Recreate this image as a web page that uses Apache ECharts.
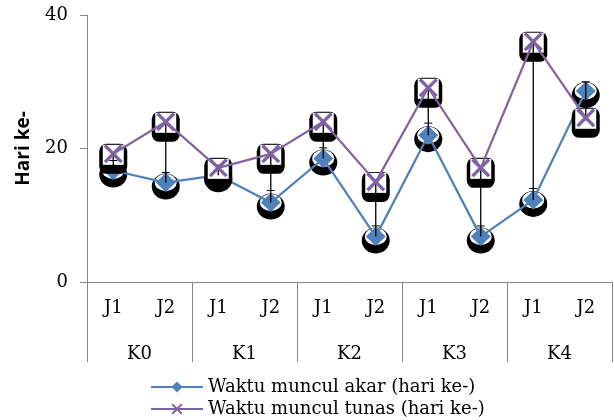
<!DOCTYPE html>
<html><head><meta charset="utf-8">
<script src="https://cdn.jsdelivr.net/npm/echarts@6/dist/echarts.min.js"></script>
<style>html,body{margin:0;padding:0;background:#fff}#c{width:614px;height:420px}</style>
</head><body><div id="c"></div>
<script>
const subCategories = ['J1','J2','J1','J2','J1','J2','J1','J2','J1','J2'];
const groups = ['K0','K1','K2','K3','K4'];
const akar = [16.7, 14.9, 16.0, 11.9, 18.5, 6.8, 22.0, 6.8, 12.3, 28.6];
const tunas = [19.2, 24.0, 17.1, 19.2, 24.0, 15.0, 29.1, 17.1, 36.0, 24.6];
const akarErr = [1.5, 1.5, 1.5, 1.8, 1.6, 1.6, 1.8, 1.6, 1.7, 1.4];
const yTicks = [0, 20, 40];
const seriesNames = ['Waktu muncul akar (hari ke-)', 'Waktu muncul tunas (hari ke-)'];

const BLUE = '#4F81BD', PURPLE = '#8064A2', GRAY = '#868686';
const SERIF = 'DejaVu Serif';
const XPATH = 'path://M0,2.5 L2.5,0 L10,7.5 L17.5,0 L20,2.5 L12.5,10 L20,17.5 L17.5,20 L10,12.5 L2.5,20 L0,17.5 L7.5,10 Z';

const chart = echarts.init(document.getElementById('c'), null, {renderer: 'canvas'});
const errData = akar.map((a, i) => [i, a, tunas[i], akarErr[i]]);
const legendText = {fontFamily: SERIF, fontSize: 18, color: '#000'};

chart.setOption({
  animation: false,
  grid: {left: 87, right: 2, top: 15, bottom: 138},
  legend: [{
    left: 145, top: 373, itemWidth: 52, itemHeight: 14,
    data: [seriesNames[0]], textStyle: legendText
  }, {
    left: 145, top: 395, itemWidth: 52, itemHeight: 14,
    data: [seriesNames[1]], textStyle: legendText
  }],
  xAxis: [{
    type: 'category', data: subCategories, boundaryGap: true,
    axisLine: {lineStyle: {color: GRAY, width: 1}},
    axisTick: {show: false},
    axisLabel: {fontFamily: SERIF, fontSize: 18, color: '#000', margin: 17, interval: 0}
  }, {
    type: 'category', data: groups, boundaryGap: true, position: 'bottom',
    axisLine: {show: false},
    axisTick: {show: true, length: 80, lineStyle: {color: GRAY}, interval: 0},
    axisLabel: {fontFamily: SERIF, fontSize: 18, color: '#000', margin: 63, interval: 0}
  }],
  yAxis: {
    type: 'value', min: 0, max: 40, interval: 20,
    name: 'Hari ke-', nameLocation: 'middle', nameGap: 54, nameRotate: 90,
    nameTextStyle: {fontFamily: 'Open Sans', fontWeight: 'bold', fontSize: 19, color: '#000'},
    axisLine: {show: true, lineStyle: {color: GRAY}},
    axisTick: {show: true, length: 7, lineStyle: {color: GRAY}},
    splitLine: {show: false},
    axisLabel: {fontFamily: SERIF, fontSize: 18, color: '#000', margin: 19,
      formatter: v => yTicks.includes(v) ? String(v) : ''}
  },
  series: [
    {type: 'scatter', name: 'blobA', data: akar, symbol: 'circle', symbolSize: [28, 26], symbolOffset: [0, 4],
     itemStyle: {color: '#000', opacity: 1}, z: 1, silent: true},
    {type: 'scatter', name: 'blobA2', data: akar, symbol: 'circle', symbolSize: [22, 17], symbolOffset: [0, 0],
     itemStyle: {color: '#fff', opacity: 1}, z: 1.1, silent: true},
    {type: 'line', name: seriesNames[0], data: akar, color: BLUE,
     lineStyle: {width: 2.25, color: BLUE}, symbol: 'diamond', symbolSize: [20, 19],
     itemStyle: {color: BLUE}, z: 2},
    {type: 'scatter', name: 'blobT', data: tunas, symbol: 'roundRect', symbolSize: [28, 30], symbolOffset: [0, 5],
     itemStyle: {color: '#000', opacity: 1}, z: 3, silent: true},
    {type: 'scatter', name: 'blobT2', data: tunas, symbol: 'rect', symbolSize: [21, 20], symbolOffset: [0, 1],
     itemStyle: {color: '#fff', opacity: 1}, z: 3.1, silent: true},
    {type: 'custom', name: 'err', data: errData, z: 4, silent: true,
     renderItem: function (params, api) {
       const i = api.value(0), a = api.value(1), t = api.value(2), e = api.value(3);
       const lo = Math.min(a, t), hi = Math.max(a, t, a + e);
       const p1 = api.coord([i, lo]), p2 = api.coord([i, hi]), pc = api.coord([i, a + e]);
       return {type: 'group', children: [
         {type: 'line', shape: {x1: p1[0], y1: p1[1], x2: p2[0], y2: p2[1]}, style: {stroke: '#000', lineWidth: 1.3}},
         {type: 'line', shape: {x1: pc[0] - 4, y1: pc[1], x2: pc[0] + 4, y2: pc[1]}, style: {stroke: '#000', lineWidth: 1}}
       ]};
     }},
    {type: 'line', name: seriesNames[1], data: tunas, color: PURPLE,
     lineStyle: {width: 2.25, color: PURPLE}, symbol: XPATH, symbolSize: 19,
     itemStyle: {color: PURPLE}, z: 5}
  ]
});
</script></body></html>
